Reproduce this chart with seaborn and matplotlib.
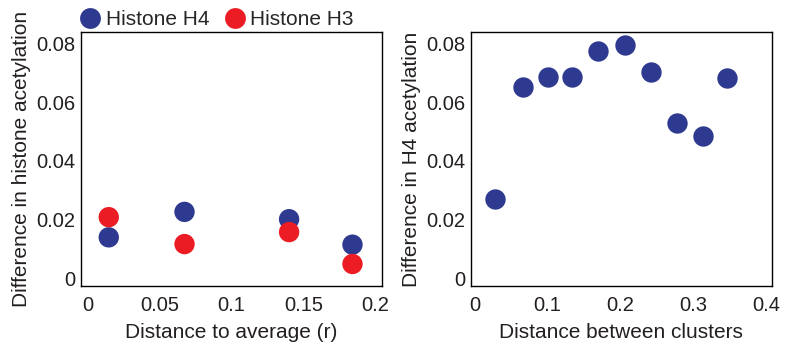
import numpy as np
import pandas as pd
import matplotlib
matplotlib.use("Agg")
import matplotlib.pyplot as plt
import seaborn as sns

# Left panel: difference in acetylation vs distance to average
dist_avg = [0.0148, 0.0674, 0.140, 0.184]
h4_diff = [0.0139, 0.0226, 0.0201, 0.0114]
h3_diff = [0.0208, 0.0116, 0.0157, 0.0048]

# Right panel: H4 acetylation difference vs distance between clusters
dist_clusters = [0.028, 0.0666, 0.101, 0.134, 0.169, 0.206, 0.242, 0.278, 0.314, 0.346]
h4_cluster_diff = [0.0269, 0.0653, 0.0686, 0.0686, 0.0774, 0.0795, 0.0705, 0.0529, 0.0486, 0.0683]

series_names = ["Histone H4", "Histone H3"]
colors = {"Histone H4": "#2e3990", "Histone H3": "#ec1c24"}

sns.set_style("white")
plt.rcParams["font.family"] = ["Liberation Sans", "DejaVu Sans"]

df_left = pd.DataFrame({
    "x": dist_avg * 2,
    "y": h4_diff + h3_diff,
    "series": [series_names[0]] * len(dist_avg) + [series_names[1]] * len(dist_avg),
})
df_right = pd.DataFrame({"x": dist_clusters, "y": h4_cluster_diff})

fig = plt.figure(figsize=(7.86, 3.5), dpi=100)
ax1 = fig.add_axes([0.103, 0.183, 0.383, 0.726])
ax2 = fig.add_axes([0.599, 0.183, 0.383, 0.726])

marker_size = 215
sns.scatterplot(data=df_left, x="x", y="y", hue="series", palette=colors,
                s=marker_size, linewidth=0, ax=ax1, legend=False, zorder=3)
sns.scatterplot(data=df_right, x="x", y="y", color=colors["Histone H4"],
                s=marker_size, linewidth=0, ax=ax2, legend=False, zorder=3)

ax1.set_xlim(-0.0045, 0.2045)
ax1.set_xticks([0, 0.05, 0.1, 0.15, 0.2])
ax1.set_xticklabels(["0", "0.05", "0.1", "0.15", "0.2"])
ax1.set_xlabel("Distance to average (r)", fontsize=15, labelpad=6)
ax1.set_ylabel("Difference in histone acetylation", fontsize=15)

ax2.set_xlim(-0.005, 0.408)
ax2.set_xticks([0, 0.1, 0.2, 0.3, 0.4])
ax2.set_xticklabels(["0", "0.1", "0.2", "0.3", "0.4"])
ax2.set_xlabel("Distance between clusters", fontsize=15, labelpad=6)
ax2.set_ylabel("Difference in H4 acetylation", fontsize=15)

for ax in (ax1, ax2):
    ax.set_ylim(-0.0027, 0.0841)
    ax.set_yticks([0, 0.02, 0.04, 0.06, 0.08])
    ax.set_yticklabels(["0", "0.02", "0.04", "0.06", "0.08"])
    ax.tick_params(axis="both", length=0, labelsize=14.5, colors="#231f20")
    ax.tick_params(axis="x", pad=7)
    ax.tick_params(axis="y", pad=4)
    for sp in ax.spines.values():
        sp.set_visible(True)
        sp.set_color("black")
        sp.set_linewidth(1.0)
    ax.yaxis.label.set_color("#231f20")
    ax.xaxis.label.set_color("#231f20")

# legend above the left panel
handles = [plt.Line2D([], [], marker="o", linestyle="", markersize=15,
                      markerfacecolor=colors[n], markeredgewidth=0) for n in series_names]
fig.legend(handles, series_names, loc="upper left", bbox_to_anchor=(0.078, 1.025),
           ncol=2, frameon=False, fontsize=15, handletextpad=0.25,
           columnspacing=0.7, handlelength=1.0)

fig.savefig("out.png", dpi=100)
